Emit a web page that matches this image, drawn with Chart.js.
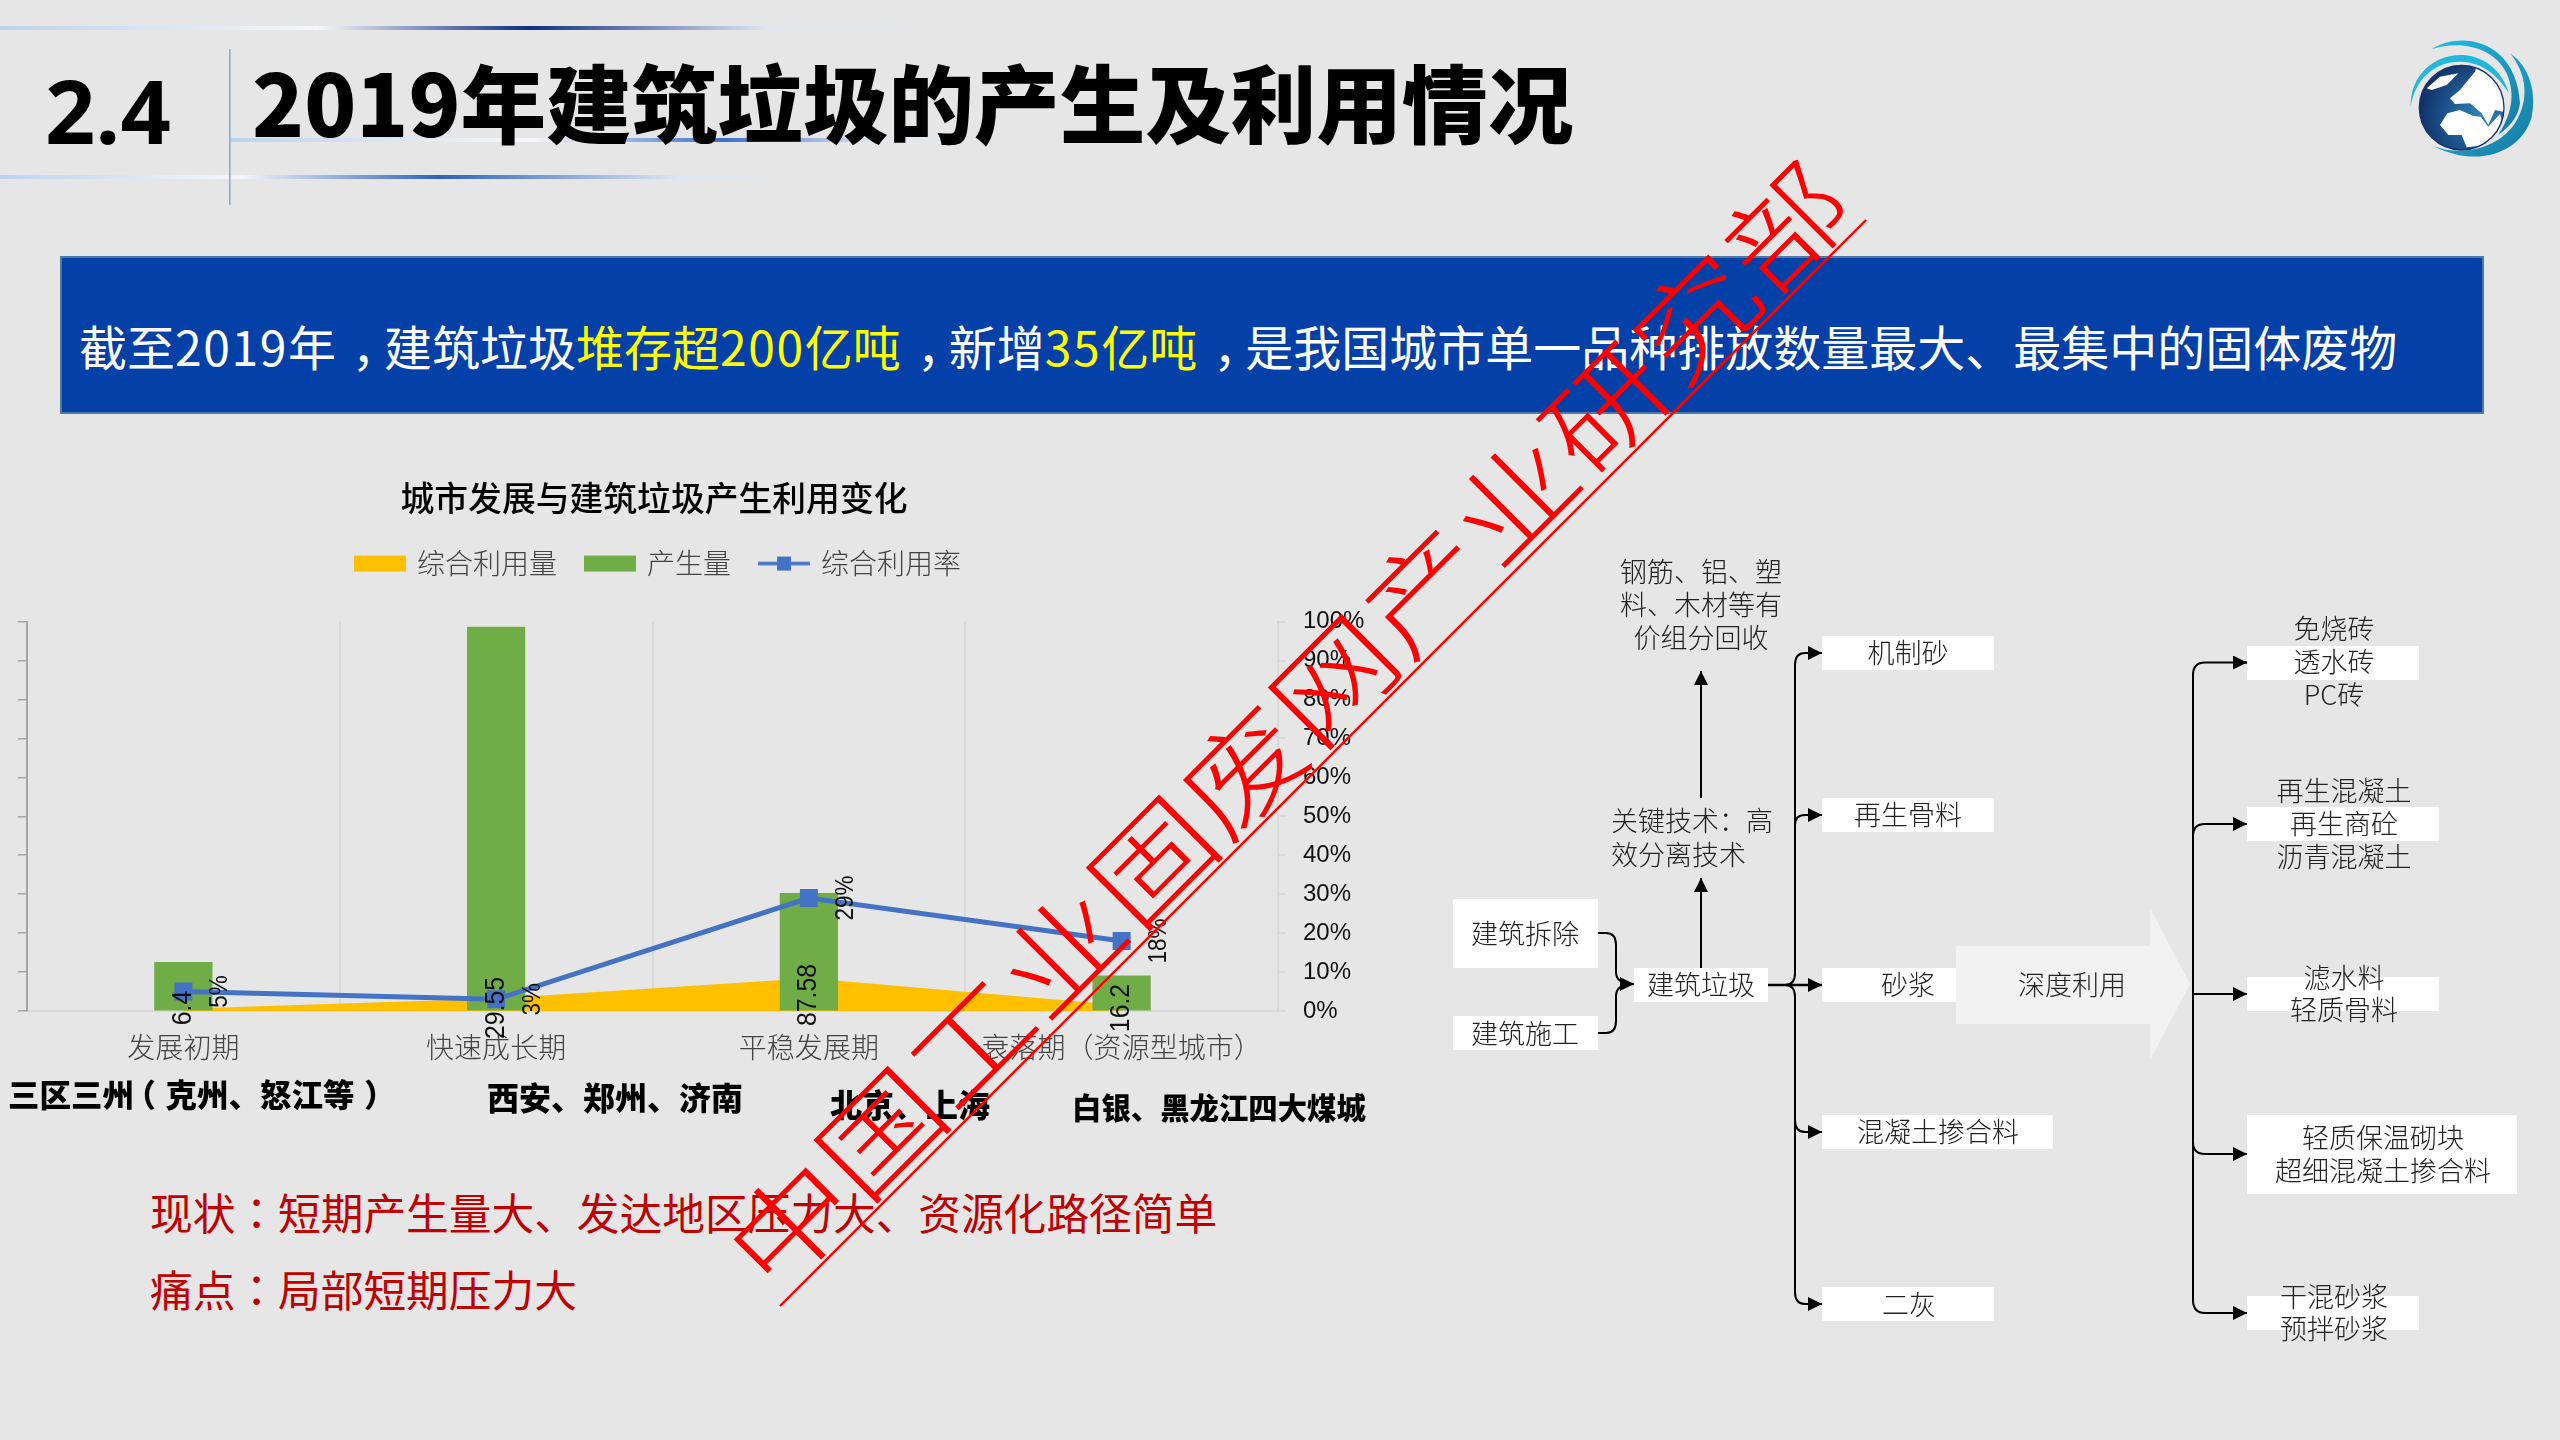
<!DOCTYPE html>
<html><head><meta charset="utf-8">
<script src="https://cdn.jsdelivr.net/npm/chart.js@4"></script>
<style>
html,body{margin:0;padding:0;background:#e6e6e6;}
#slide{position:relative;width:2560px;height:1440px;overflow:hidden;background:#e6e6e6;font-family:"Noto Sans CJK SC",sans-serif;}
#chartBox{position:absolute;left:-65px;top:460px;width:1438px;height:640px;}
#over{position:absolute;left:0;top:0;}
.abs{position:absolute;white-space:nowrap;line-height:1;}
.top{z-index:3;}
#banner{position:absolute;left:60px;top:256px;width:2420px;height:154px;background:#0341a8;border:2px solid #4f7aa5;color:#fff;font-size:48px;line-height:175px;white-space:nowrap;font-family:"Noto Sans CJK SC",sans-serif;}
#banner span.t{position:absolute;left:17px;top:0;}
#banner b{font-weight:400;color:#ffff00;}
#banner i{font-style:normal;letter-spacing:1.6px;}
.cm{font-family:"Noto Sans CJK KR",sans-serif;}
.c1{font-family:"Noto Sans CJK KR",sans-serif;position:relative;left:.33em;}
.pl{position:relative;left:-.3em;}
.pr{position:relative;left:.3em;}
svg text{font-family:"Noto Sans CJK SC",sans-serif;}
</style></head><body>
<div id="slide">
<div id="banner"><span class="t">截至<i>2019</i>年<span class="c1">，</span>建筑垃圾<b>堆存超<i>200</i>亿吨</b><span class="c1">，</span>新增<b><i>35</i>亿吨</b><span class="c1">，</span>是我国城市单一品种排放数量最大、最集中的固体废物</span></div>
<div id="chartBox"><canvas id="c" width="1438" height="640"></canvas></div>
<div class="abs cm" style="left:8px;top:1078px;font-size:31.5px;font-weight:900;color:#000">三区三州<span class="pl">（</span>克州、怒江等<span class="pr">）</span></div>
<div class="abs" style="left:487px;top:1080px;font-size:32px;font-weight:900;color:#000">西安、郑州、济南</div>
<div class="abs" style="left:830px;top:1087px;font-size:32px;font-weight:900;color:#000">北京、上海</div>
<div class="abs" style="left:1072px;top:1092px;font-size:29.4px;font-weight:900;color:#000">白银、黑龙江四大煤城</div>
<div class="abs cm" style="left:150px;top:1190px;font-size:42.7px;color:#c00000">现状：短期产生量大、发达地区压力大、资源化路径简单</div>
<div class="abs cm" style="left:150px;top:1267px;font-size:42.7px;color:#c00000">痛点：局部短期压力大</div>
<svg id="over" width="2560" height="1440" xmlns="http://www.w3.org/2000/svg">
<defs>
<linearGradient id="g1" x1="0" x2="1"><stop offset="0" stop-color="#bcd3ee"/><stop offset=".33" stop-color="#f5f7fa"/><stop offset=".55" stop-color="#0d2f7e"/><stop offset=".8" stop-color="#dfe8f2"/><stop offset="1" stop-color="#e6e6e6"/></linearGradient>
<linearGradient id="g2" x1="0" x2="1"><stop offset="0" stop-color="#bcd3ee"/><stop offset=".4" stop-color="#f5f7fa"/><stop offset=".65" stop-color="#3d70c8"/><stop offset=".85" stop-color="#dfe8f2"/><stop offset="1" stop-color="#e6e6e6"/></linearGradient>
<linearGradient id="g3" x1="0" x2="1"><stop offset="0" stop-color="#bcd3ee"/><stop offset=".3" stop-color="#f5f7fa"/><stop offset=".55" stop-color="#2f62bd"/><stop offset=".85" stop-color="#dfe8f2"/><stop offset="1" stop-color="#e6e6e6"/></linearGradient>
<radialGradient id="gb" cx=".75" cy=".6" r=".8"><stop offset="0" stop-color="#2f86bd"/><stop offset="1" stop-color="#0d2c62"/></radialGradient>
<linearGradient id="gs" x1="0" x2="1" y1="0" y2="1"><stop offset="0" stop-color="#1fc0e6"/><stop offset="1" stop-color="#1877a0"/></linearGradient>
<clipPath id="gc"><circle cx="305" cy="293" r="125"/></clipPath>
<marker id="ah" viewBox="0 0 10 10" refX="10" refY="5" markerWidth="14" markerHeight="14" markerUnits="userSpaceOnUse" orient="auto"><path d="M0,0L10,5L0,10Z" fill="#000"/></marker>
</defs>
<rect x="0" y="26" width="960" height="4" fill="url(#g1)"/>
<rect x="230" y="138" width="760" height="4" fill="url(#g2)"/>
<rect x="0" y="175" width="800" height="4" fill="url(#g3)"/>
<rect x="229" y="49" width="1.6" height="156" fill="#8faadc"/>

<g transform="translate(2360,10) scale(.3333)">
<path d="M215,118C300,60 470,90 480,280C475,320 450,350 415,375C450,320 470,260 440,190C400,110 300,90 215,118Z" fill="url(#gs)"/>
<path d="M152,290C150,190 230,130 310,135C380,140 430,190 447,250C410,190 360,155 300,155C220,155 165,210 152,290Z" fill="#22b8dc"/>
<path d="M450,130C510,170 530,250 515,320C490,420 360,480 220,408C300,440 410,420 465,340C510,270 500,190 450,130Z" fill="url(#gs)"/>
<circle cx="305" cy="293" r="127" fill="url(#gb)" stroke="#1d2f6b" stroke-width="4"/>
<g clip-path="url(#gc)" fill="#fff">
<path d="M320,215L345,185L350,165L450,165L450,310L405,300L385,345L365,310L330,280L285,282L270,265L300,240Z"/>
<path d="M240,345L262,310L300,300L340,318L362,320L385,350L420,312L425,330L400,392L380,405L320,412L305,375L265,375Z"/>
<path d="M200,235L240,200L295,190L260,225L215,240Z"/>
</g>
</g>

<polygon points="1956,946 2150,946 2150,908 2190,984 2150,1060 2150,1024 1956,1024" fill="#f2f2f2"/>
<g fill="#fff">
<rect x="1453" y="899" width="145" height="69"/><rect x="1453" y="1016" width="145" height="34"/>
<rect x="1634" y="968" width="134" height="34"/>
<rect x="1822" y="636" width="172" height="34"/><rect x="1822" y="798" width="172" height="34"/>
<rect x="1822" y="968" width="134" height="34"/><rect x="1822" y="1115" width="231" height="34"/>
<rect x="1822" y="1287" width="172" height="34"/>
<rect x="2247" y="646" width="172" height="34"/><rect x="2247" y="807" width="192" height="34"/>
<rect x="2247" y="977" width="192" height="34"/><rect x="2247" y="1115" width="270" height="79"/>
<rect x="2247" y="1296" width="172" height="34"/>
</g>
<g fill="none" stroke="#000" stroke-width="2">
<path d="M1598,933H1606Q1616,933 1616,945V972Q1616,984 1634,984" marker-end="url(#ah)"/>
<path d="M1598,1033H1606Q1616,1033 1616,1021V996Q1616,984 1634,984"/>
<path d="M1701,968V878" marker-end="url(#ah)"/>
<path d="M1701,798V671" marker-end="url(#ah)"/>
<path d="M1768,985H1822" marker-end="url(#ah)" stroke-width="2.6"/>
<path d="M1785,985Q1795,985 1795,973V665Q1795,653 1805,653H1822" marker-end="url(#ah)"/>
<path d="M1795,825Q1795,815 1805,815H1822" marker-end="url(#ah)"/>
<path d="M1785,985Q1795,985 1795,997V1292Q1795,1304 1805,1304H1822" marker-end="url(#ah)"/>
<path d="M1795,1120Q1795,1132 1805,1132H1822" marker-end="url(#ah)"/>
<path d="M2247,662.5H2205Q2193,662.5 2193,675V1300Q2193,1313 2205,1313H2247" marker-end="url(#ah)"/>
<path d="M2193,836Q2193,824 2205,824H2247" marker-end="url(#ah)"/>
<path d="M2193,994H2247" marker-end="url(#ah)"/>
<path d="M2193,1142Q2193,1154 2205,1154H2247" marker-end="url(#ah)"/>
<path d="M2235,662.5H2247" marker-end="url(#ah)"/>
</g>
<g transform="translate(0,-1)" font-size="27" font-weight="300" fill="#222" text-anchor="middle" dominant-baseline="central">
<text x="1525" y="933">建筑拆除</text><text x="1525" y="1033">建筑施工</text>
<text x="1701" y="984">建筑垃圾</text>
<text x="1701" y="571">钢筋、铝、塑</text><text x="1701" y="604">料、木材等有</text><text x="1701" y="637">价组分回收</text>
<text x="1611" y="820" text-anchor="start">关键技术：高</text><text x="1611" y="854" text-anchor="start">效分离技术</text>
<text x="1908" y="652">机制砂</text><text x="1908" y="814.5">再生骨料</text><text x="1908" y="984">砂浆</text>
<text x="1938" y="1131">混凝土掺合料</text><text x="1909" y="1304">二灰</text>
<text x="2072" y="984">深度利用</text>
<text x="2334" y="628">免烧砖</text><text x="2334" y="661">透水砖</text><text x="2334" y="694">PC砖</text>
<text x="2344" y="790">再生混凝土</text><text x="2344" y="823">再生商砼</text><text x="2344" y="856">沥青混凝土</text>
<text x="2344" y="977">滤水料</text><text x="2344" y="1009">轻质骨料</text>
<text x="2383" y="1137">轻质保温砌块</text><text x="2383" y="1170">超细混凝土掺合料</text>
<text x="2334" y="1296">干混砂浆</text><text x="2334" y="1328">预拌砂浆</text>
</g>
</svg>
<div class="abs top" style="left:45px;top:50px;font:700 88px 'Open Sans',sans-serif;color:#000">2.4</div>
<div class="abs top" style="left:252px;top:58px;font-size:85.6px;font-weight:900;color:#000;">2019年建筑垃圾的产生及利用情况</div>
<svg class="top" style="position:absolute;left:0;top:0;z-index:4" width="2560" height="1440" xmlns="http://www.w3.org/2000/svg">
<line x1="780" y1="1306" x2="1866" y2="220" stroke="#ff0000" stroke-width="2.4"/>
<text transform="translate(773,1297) rotate(-45) scale(1.22,1)" font-size="105" font-weight="300" fill="#ff0000" style="font-family:'Noto Sans CJK SC',sans-serif">中国工业固废网产业研究部</text>
</svg>
</div>
<script>
const categories = ["发展初期", "快速成长期", "平稳发展期", "衰落期（资源型城市）"];
const seriesNames = ["综合利用量", "产生量", "综合利用率"];
const utilization = [0.55, 3.2, 8.4, 1.5];
const generation = [12.5, 98.6, 30.2, 9];
const rate = [5, 3, 29, 18];
const generationLabels = ["6.4", "29.55", "87.58", "16.2"];
const rateLabels = ["5%", "3%", "29%", "18%"];
const rateTicks = ["0%","10%","20%","30%","40%","50%","60%","70%","80%","90%","100%"];

const CJK = '"Noto Sans CJK SC", sans-serif';
const LAT = '"Liberation Sans", sans-serif';

function swatch(kind, color){
  const c = document.createElement('canvas'); c.width = 52; c.height = 20;
  const x = c.getContext('2d'); x.fillStyle = color; x.strokeStyle = color;
  if(kind === 'bar'){ x.fillRect(0,2,52,16); }
  else { x.lineWidth = 3.5; x.beginPath(); x.moveTo(0,10); x.lineTo(52,10); x.stroke(); x.fillRect(19,3,14,14); }
  return c;
}
const legendSwatches = [swatch('bar','#ffc000'), swatch('bar','#70ad47'), swatch('line','#4472c4')];

const legendSpacing = {
  id:'legendSpacing',
  beforeInit(chart){
    const fit = chart.legend.fit;
    chart.legend.fit = function(){ fit.call(this); this.height += 35; };
  },
  afterLayout(chart){
    const l = chart.legend;
    l.top += 1; l.bottom += 1; l.left += 5; l.right += 5;
  }
};

const valueLabels = {
  id:'valueLabels',
  afterDatasetsDraw(chart){
    const ctx = chart.ctx;
    const base = chart.scales.y.getPixelForValue(0);
    const lift = [3,3,16,3];
    const drawV = (t,x,y,size,sx)=>{ ctx.save(); ctx.translate(x,y); ctx.rotate(-Math.PI/2); ctx.scale(sx,1);
      ctx.font = size+'px '+LAT; ctx.fillStyle = '#111'; ctx.textAlign='center'; ctx.textBaseline='middle';
      ctx.fillText(t,0,0); ctx.restore(); };
    chart.getDatasetMeta(1).data.forEach((el,i)=> drawV(generationLabels[i], el.x, base-lift[i], 27, .92));
    chart.getDatasetMeta(2).data.forEach((el,i)=> drawV(rateLabels[i], el.x+37, el.y, 25, .9));
  }
};

new Chart(document.getElementById('c'), {
  data:{ labels:categories, datasets:[
    {type:'line', label:seriesNames[0], data:utilization, yAxisID:'y', order:3, fill:'origin', backgroundColor:'#ffc000', borderWidth:0, borderColor:'#ffc000', pointRadius:0, tension:0},
    {type:'bar', label:seriesNames[1], data:generation, yAxisID:'y', order:2, backgroundColor:'#70ad47', barThickness:57.6},
    {type:'line', label:seriesNames[2], data:rate, yAxisID:'y1', order:1, borderColor:'#4472c4', backgroundColor:'#4472c4', borderWidth:5, pointStyle:'rect', pointRadius:12.7, pointBackgroundColor:'#4472c4', pointBorderWidth:0, tension:0, fill:false}
  ]},
  options:{
    responsive:false, animation:false,
    layout:{padding:{top:0,left:0,right:0,bottom:0}},
    plugins:{
      title:{display:true,text:'城市发展与建筑垃圾产生利用变化',color:'#000',font:{family:CJK,size:33.8,weight:'500'},padding:{top:18,bottom:0}},
      legend:{display:true,position:'top',labels:{
        usePointStyle:true,pointStyleWidth:46,boxHeight:20,padding:30,color:'#444',font:{family:CJK,size:28,weight:'300'},
        generateLabels(chart){ return seriesNames.map((n,i)=>({text:n,datasetIndex:i,pointStyle:legendSwatches[i],fontColor:'#444',lineWidth:0,fillStyle:'transparent',strokeStyle:'transparent'})); }
      }},
      tooltip:{enabled:false}
    },
    scales:{
      x:{type:'category',offset:true,grid:{color:'#d9d9d9',lineWidth:2,drawTicks:false},border:{color:'#d9d9d9',width:2},
         ticks:{padding:20,color:'#444',maxRotation:0,autoSkip:false,font:{family:CJK,size:28,weight:'300'}},
         afterFit(s){s.height=89;}},
      y:{position:'left',min:0,max:100,grid:{drawOnChartArea:false,color:'#a6a6a6',tickLength:9,lineWidth:1.5},border:{color:'#a6a6a6',width:2},
         ticks:{display:false,stepSize:10},afterFit(s){s.width=92;}},
      y1:{position:'right',min:0,max:100,grid:{drawOnChartArea:false,color:'#d9d9d9',tickLength:8,lineWidth:2},border:{color:'#d9d9d9',width:2},
         ticks:{stepSize:10,padding:17,color:'#111',font:{family:LAT,size:24},callback:(v,i)=>rateTicks[i]},afterFit(s){s.width=95;}}
    }
  },
  plugins:[legendSpacing,valueLabels]
});
</script>
</body></html>
